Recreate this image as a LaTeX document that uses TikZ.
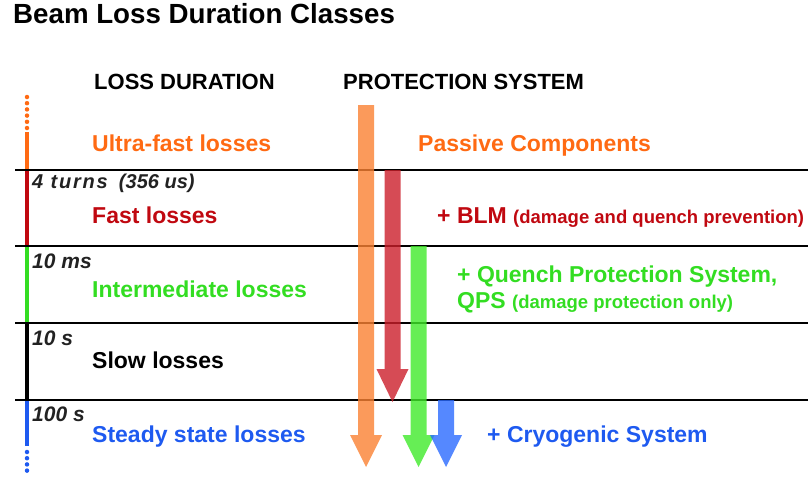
\documentclass[tikz,border=0pt]{standalone}
\usepackage{fontspec}
\setmainfont{Liberation Sans}
\definecolor{ultraorange}{RGB}{255,106,19}
\definecolor{fastred}{RGB}{192,8,16}
\definecolor{intgreen}{RGB}{51,221,34}
\definecolor{steadyblue}{RGB}{30,90,240}
\definecolor{timegray}{RGB}{34,34,34}
\definecolor{passarrow}{RGB}{250,129,50}
\definecolor{blmarrow}{RGB}{204,30,42}
\definecolor{qpsarrow}{RGB}{64,234,42}
\definecolor{cryoarrow}{RGB}{42,106,255}
% block arrow: centre x, top, head base, tip, colour
\newcommand\protarrow[5]{%
  \fill[prot,fill=#5] (#1-8,#2) -- (#1+8,#2) -- (#1+8,#3) -- (#1+16,#3)
    -- (#1,#4) -- (#1-16,#3) -- (#1-8,#3) -- cycle;}
\begin{document}
\begin{tikzpicture}[x=1pt,y=-1pt,
  lbl/.style={anchor=base west,inner sep=0pt,font=\bfseries\fontsize{23}{26}\selectfont},
  head/.style={anchor=base west,inner sep=0pt,text=black,font=\bfseries\fontsize{22}{24}\selectfont},
  tlbl/.style={anchor=base west,inner sep=0pt,text=timegray,font=\bfseries\itshape\fontsize{21}{23}\selectfont},
  limit/.style={line width=1.6pt},
  ax/.style={line width=3.6pt},
  prot/.style={opacity=0.8}]
\useasboundingbox (0,0) rectangle (808,477);
% title and column heads
\node[lbl,font=\bfseries\fontsize{27.7}{30}\selectfont] (title) at (13,23) {Beam Loss Duration Classes};
\node[head] (lossdur) at (94,89) {LOSS DURATION};
\node[head] (protsys) at (343,89) {PROTECTION SYSTEM};
% time axis
\draw[ax,ultraorange,line width=4.5pt,line cap=round,dash pattern=on 0pt off 6.2pt] (27,97) -- (27,128);
\draw[ax,ultraorange] (27,132) -- (27,170);
\draw[ax,fastred] (27,170) -- (27,246);
\draw[ax,intgreen] (27,246) -- (27,323);
\draw[ax,black,line width=4.2pt] (27,323) -- (27,400);
\draw[ax,steadyblue] (27,400) -- (27,446);
\draw[ax,steadyblue,line width=4.5pt,line cap=round,dash pattern=on 0pt off 6.2pt] (27,452) -- (27,476);
% class limits
\foreach \y in {170,246,323,400} {
  \draw[limit] (15,\y) -- (808,\y);
  \draw[line width=2.6pt] (15,\y) -- (40,\y);
}
% limit times
\node[tlbl,font=\bfseries\itshape\fontsize{20}{22}\selectfont] (tturns) at (32,188) {{\addfontfeature{LetterSpace=9}4 turns}\ \ (356 us)};
\node[tlbl] (tms) at (32,268) {10 ms};
\node[tlbl] (ts) at (32,345) {10 s};
\node[tlbl] (thund) at (32,421) {100 s};
% loss classes
\node[lbl,text=ultraorange] (ultra) at (92,151) {Ultra-fast losses};
\node[lbl,text=fastred] (fast) at (92,223) {Fast losses};
\node[lbl,text=intgreen] (inter) at (92,297) {Intermediate losses};
\node[lbl,text=black] (slow) at (92,368) {Slow losses};
\node[lbl,text=steadyblue] (steady) at (92,442) {Steady state losses};
% protection systems
\protarrow{366}{105}{435}{467}{passarrow}
\protarrow{392.5}{170}{369}{402}{blmarrow}
\protarrow{418.5}{246}{435}{467}{qpsarrow}
\protarrow{446}{400}{435}{467}{cryoarrow}
\node[lbl,text=ultraorange] (passive) at (418,151) {Passive Components};
\node[lbl,text=fastred] (blm) at (437,223) {+ BLM \fontsize{18.5}{20}\selectfont(damage and quench prevention)};
\node[lbl,text=intgreen] (qps) at (457,282) {+ Quench Protection System,};
\node[lbl,text=intgreen] (qpsb) at (457,308) {QPS \fontsize{18.5}{20}\selectfont(damage protection only)};
\node[lbl,text=steadyblue] (cryo) at (487,442) {+ Cryogenic System};
\end{tikzpicture}
\end{document}
